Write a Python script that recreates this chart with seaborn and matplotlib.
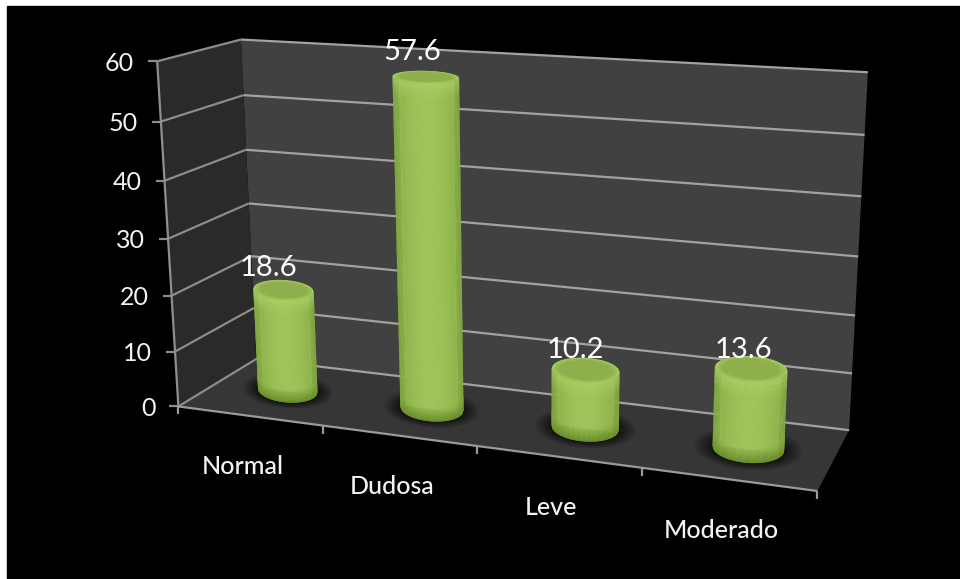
import numpy as np
import matplotlib
matplotlib.use("Agg")
import matplotlib.pyplot as plt
import pandas as pd
import seaborn as sns
from matplotlib.collections import PolyCollection
from matplotlib.colors import to_rgb
from matplotlib.patches import Polygon, Rectangle
from matplotlib.transforms import Affine2D, IdentityTransform, Transform

categories = ["Normal", "Dudosa", "Leve", "Moderado"]
values = [18.6, 57.6, 10.2, 13.6]
value_ticks = [0, 10, 20, 30, 40, 50, 60]

WIDTH, HEIGHT = 960, 579

# Camera anchors: (category position, value, depth) -> pixel, depth 0 at the front
anchor_world = [(0, 0, 0), (1, 0, 0), (2, 0, 0), (3, 0, 0), (4, 0, 0),
                (0, 60, 0), (0, 0, 1), (4, 0, 1), (0, 60, 1), (4, 60, 1)]
anchor_pixel = [(178, 407), (322, 426), (478, 446), (642, 468), (817, 490),
                (158, 61), (257, 358), (849, 431), (240, 40), (868, 72)]


def fit_camera(world, pixel):
    """Least-squares 3x4 projective camera through the anchor points."""
    rows, rhs = [], []
    for (x, v, d), (u, w) in zip(world, pixel):
        rows.append([x, v, d, 1, 0, 0, 0, 0, -u * x, -u * v, -u * d])
        rhs.append(u)
        rows.append([0, 0, 0, 0, x, v, d, 1, -w * x, -w * v, -w * d])
        rhs.append(w)
    p = np.linalg.lstsq(np.array(rows, float), np.array(rhs, float), rcond=None)[0]
    return np.append(p, 1).reshape(3, 4)


CAMERA = fit_camera(anchor_world, anchor_pixel)
BAR_DEPTH = 0.5
RADIUS = 0.21
DEPTH_RADIUS = 0.25


def project(x, v, d):
    """Chart coordinates to display pixels (origin bottom-left)."""
    x, v, d = np.broadcast_arrays(np.asarray(x, float), np.asarray(v, float), np.asarray(d, float))
    h = CAMERA @ np.stack([x, v, d, np.ones_like(x)])
    return np.stack([h[0] / h[2], HEIGHT - h[1] / h[2]], axis=-1)


def disc(cx, level, u, w):
    """Screen point on the horizontal disc of a bar: u runs across it, w towards the back."""
    centre = project(cx, level, BAR_DEPTH)
    across = project(cx + RADIUS, level, BAR_DEPTH) - centre
    along = project(cx, level, BAR_DEPTH + DEPTH_RADIUS) - centre
    across = across * [1, 0.5]
    along = along * [0, 1]
    u, w = np.asarray(u, float), np.asarray(w, float)
    return centre + np.outer(u, across) + np.outer(w, along)


class BarPlaneTransform(Transform):
    """Maps seaborn's categorical axes onto the mid-depth plane of the chart box."""
    input_dims = 2
    output_dims = 2
    is_separable = False

    def transform_non_affine(self, values):
        values = np.asarray(values, float)
        return project(values[:, 0] + 0.5, values[:, 1], BAR_DEPTH)


def mix(a, b, t):
    return tuple((1 - t) * np.array(to_rgb(a)) + t * np.array(to_rgb(b)))


sns.set_theme(style="dark", rc={"font.family": ["Lato", "DejaVu Sans"]})
fig = plt.figure(figsize=(WIDTH / 100, HEIGHT / 100), dpi=100, facecolor="white")
ax = fig.add_axes([0, 0, 1, 1])

screen = IdentityTransform()
pixels = Affine2D().scale(1, -1).translate(0, HEIGHT)
ax.add_patch(Rectangle((7, 6), WIDTH, HEIGHT, color="black", transform=pixels, zorder=0))


def face(points, color, z=1, alpha=None):
    ax.add_patch(Polygon(points, closed=True, facecolor=color, edgecolor="none", alpha=alpha,
                         transform=screen, zorder=z))


def segment(a, b, color="#8f8f8f", lw=1.6, z=2):
    ax.plot([a[0], b[0]], [a[1], b[1]], color=color, lw=lw, transform=screen,
            zorder=z, clip_on=False, solid_capstyle="butt")


# Box walls and floor
face(project([0, 4, 4, 0], [0, 0, 60, 60], [1, 1, 1, 1]), "#414141")
face(project([0, 0, 0, 0], [0, 60, 60, 0], [0, 0, 1, 1]), "#2a2a2a")
face(project([0, 4, 4, 0], [0, 0, 0, 0], [0, 0, 1, 1]), "#363636")

# Gridlines and value ticks
for tick in value_ticks:
    front, back, right = project([0, 0, 4], tick, [0, 1, 1])
    segment(front, back, "#8c8c8c")
    segment(back, right, "#a2a2a2")
    segment(front, front - [9, 0], "#8c8c8c")
    ax.text(front[0] - 23, front[1], str(tick), color="#f2f2f2", fontsize=18,
            ha="right", va="center_baseline", transform=screen, zorder=6)

# Front axes and category ticks
segment(project(0, 0, 0), project(0, 60, 0))
segment(project(0, 0, 0), project(4, 0, 0), "#9a9a9a")
for position in range(len(categories) + 1):
    anchor = project(position, 0, 0)
    segment(anchor, anchor - [0, 8], "#9a9a9a")

# Flat bars inside the cylinders, which the round surfaces are then built around
data = pd.DataFrame({"category": categories, "value": values})
sns.barplot(data=data, x="category", y="value", ax=ax, color="#8fb548", saturation=1,
            width=0.34, order=categories)
plane = BarPlaneTransform()
for bar in ax.containers[0]:
    bar.set_transform(plane)
    bar.set_zorder(3.5)
    bar.set_clip_on(False)

across_u = np.linspace(-1, 1, 81)
front_w = -np.sqrt(1 - across_u ** 2)
theta = np.linspace(0, 2 * np.pi, 121)
BEVEL = list(np.arange(0, 2.6, 0.25))

for i, (label, value) in enumerate(zip(categories, values)):
    cx = i + 0.5
    # Soft contact shadow on the floor, denser towards the base
    for scale in 1.02 + 0.5 * np.linspace(0, 1, 14) ** 1.5:
        face(disc(cx, 0, scale * np.cos(theta), scale * np.sin(theta)), "black", z=3, alpha=0.065)

    # Cylinder wall as narrow strips, shaded by their distance from the centre line
    levels = BEVEL + [value - 2.4, value - 1.6, value - 0.8, value]
    rings = [disc(cx, level, across_u, front_w) for level in levels]
    quads, colours = [], []
    for k in range(len(across_u) - 1):
        shade = (1 - (0.5 * (across_u[k] + across_u[k + 1])) ** 2) ** 0.8
        base = mix("#82a83e", "#a0c55c", shade)
        for j in range(len(levels) - 1):
            quads.append([rings[j][k], rings[j][k + 1], rings[j + 1][k + 1], rings[j + 1][k]])
            if j < len(BEVEL) - 1:
                colours.append(mix("#6e932c", base, (j + 0.5) / (len(BEVEL) - 1)))
            elif j >= len(levels) - 4:
                colours.append(mix(base, "#aed367", 0.2 * (j - len(levels) + 5)))
            else:
                colours.append(base)
    ax.add_collection(PolyCollection(quads, facecolors=colours, edgecolors=colours, linewidths=0.3,
                                     transform=screen, zorder=4))

    # Top cap with its lighter rim
    for scale, colour in [(1.0, "#a4cb5e"), (0.95, "#9dc358"), (0.9, "#96ba52"), (0.8, "#8eaf4c")]:
        face(disc(cx, value, scale * np.cos(theta), scale * np.sin(theta)), colour, z=5)

    # Value and category labels
    top = project(cx, value, 0.3)
    ax.text(top[0], top[1] + 17, f"{value:.1f}", color="white", fontsize=21,
            ha="center", va="bottom", transform=screen, zorder=7)
    foot = project(cx, 0, 0)
    ax.text(foot[0] - 7, foot[1] - 51, label, color="#f2f2f2", fontsize=18, fontweight="medium",
            ha="center", va="center", transform=screen, zorder=7)

ax.set_xlim(-0.5, 3.5)
ax.set_ylim(0, 60)
ax.set_axis_off()
fig.savefig("out.png", dpi=100, facecolor="white")
